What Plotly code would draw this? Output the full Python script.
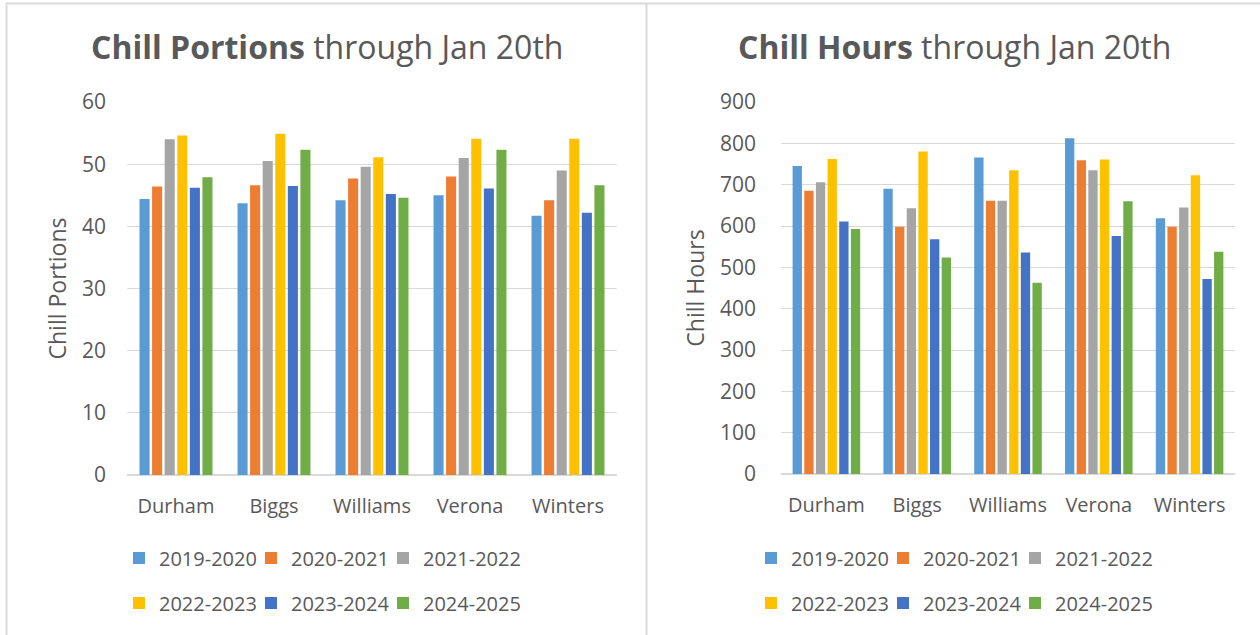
import plotly.graph_objects as go

W, H = 1260, 635

sites = ["Durham", "Biggs", "Williams", "Verona", "Winters"]
seasons = ["2019-2020", "2020-2021", "2021-2022", "2022-2023", "2023-2024", "2024-2025"]
colors = ["#5B9BD5", "#ED7D31", "#A5A5A5", "#FFC000", "#4472C4", "#70AD47"]

# Chill Portions through Jan 20th (per season, across sites)
portions_2019 = [44.4, 43.7, 44.2, 45.0, 41.7]
portions_2020 = [46.4, 46.6, 47.7, 48.0, 44.2]
portions_2021 = [54.0, 50.5, 49.6, 51.0, 49.0]
portions_2022 = [54.6, 54.9, 51.1, 54.1, 54.1]
portions_2023 = [46.2, 46.5, 45.2, 46.1, 42.2]
portions_2024 = [47.9, 52.3, 44.6, 52.3, 46.6]

# Chill Hours through Jan 20th
hours_2019 = [745, 690, 766, 812, 619]
hours_2020 = [685, 598, 661, 759, 598]
hours_2021 = [706, 643, 661, 735, 645]
hours_2022 = [762, 780, 735, 761, 723]
hours_2023 = [611, 568, 536, 576, 472]
hours_2024 = [593, 524, 463, 660, 538]

portions = [portions_2019, portions_2020, portions_2021, portions_2022, portions_2023, portions_2024]
hours = [hours_2019, hours_2020, hours_2021, hours_2022, hours_2023, hours_2024]

left_ticks = [0, 10, 20, 30, 40, 50, 60]
right_ticks = [0, 100, 200, 300, 400, 500, 600, 700, 800, 900]

TXT = "#595959"
GRID = "#D9D9D9"
FONT = "Open Sans"

def px_x(x):
    return x / W

def px_y(y):
    return 1 - y / H

# legend item layout (3 per row, 2 rows per panel)
LEG_LEFT_X0 = [136, 768]   # left edge of first legend swatch area, per panel
LEG_STRIDE = 132
LEG_ROWS_Y = [558, 603]

fig = go.Figure()
legends = {}

def legend_cfg(x, y):
    return dict(
        x=x, y=y, xanchor="left", yanchor="middle", orientation="h",
        font=dict(family=FONT, size=20, color=TXT), bgcolor="rgba(0,0,0,0)",
        itemwidth=30, traceorder="normal",
    )

for p, data in enumerate([portions, hours]):
    for i, (s, c) in enumerate(zip(seasons, colors)):
        n = p * 6 + i + 1
        lid = "legend" if n == 1 else f"legend{n}"
        row, col = divmod(i, 3)
        lx = LEG_LEFT_X0[p] + col * LEG_STRIDE - 17
        legends[lid] = legend_cfg(px_x(lx), px_y(LEG_ROWS_Y[row]))
        fig.add_trace(go.Bar(
            x=sites, y=data[i], name=s, marker=dict(color=c, line=dict(width=0)),
            xaxis="x" if p == 0 else "x2", yaxis="y" if p == 0 else "y2", legend=lid,
        ))

axis_font = dict(family=FONT, size=20, color=TXT)
tick_font = dict(family=FONT, size=21, color=TXT)

fig.update_layout(
    width=W, height=H,
    margin=dict(l=0, r=0, t=0, b=0, autoexpand=False),
    paper_bgcolor="white", plot_bgcolor="white",
    barmode="group", bargap=0.23, bargroupgap=0.2,
    showlegend=True,
    font=dict(family=FONT, color=TXT),
    xaxis=dict(
        domain=[px_x(127), px_x(617)], anchor="y", showgrid=False,
        showline=False, zeroline=False, tickfont=axis_font, ticks="",
        ticklabelstandoff=17, automargin=False,
    ),
    yaxis=dict(
        domain=[px_y(475), px_y(102)], anchor="x", range=[0, 60],
        tickvals=left_ticks, showgrid=True, gridcolor=GRID, gridwidth=1.3,
        zeroline=True, zerolinecolor=GRID, zerolinewidth=1.8, showline=False,
        tickfont=tick_font, ticks="", automargin=False,
        ticklabelstandoff=20,
        title=dict(text="Chill Portions", font=dict(family=FONT, size=23, color=TXT), standoff=8),
    ),
    xaxis2=dict(
        domain=[px_x(781), px_x(1235)], anchor="y2", showgrid=False,
        showline=False, zeroline=False, tickfont=axis_font, ticks="",
        ticklabelstandoff=17, automargin=False,
    ),
    yaxis2=dict(
        domain=[px_y(474), px_y(102)], anchor="x2", range=[0, 900],
        tickvals=right_ticks, showgrid=True, gridcolor=GRID, gridwidth=1.3,
        zeroline=True, zerolinecolor=GRID, zerolinewidth=1.8, showline=False,
        tickfont=tick_font, ticks="", automargin=False,
        ticklabelstandoff=24,
        title=dict(text="Chill Hours", font=dict(family=FONT, size=23, color=TXT), standoff=8),
    ),
    annotations=[
        dict(text="<b>Chill Portions</b> through Jan 20th", x=px_x(327), y=px_y(47),
             xref="paper", yref="paper", xanchor="center", yanchor="middle",
             showarrow=False, font=dict(family=FONT, size=32, color=TXT)),
        dict(text="<b>Chill Hours</b> through Jan 20th", x=px_x(954), y=px_y(47),
             xref="paper", yref="paper", xanchor="center", yanchor="middle",
             showarrow=False, font=dict(family=FONT, size=32, color=TXT)),
    ],
    shapes=[
        dict(type="line", xref="paper", yref="paper", x0=px_x(6), x1=1, y0=px_y(3.5), y1=px_y(3.5),
             line=dict(color=GRID, width=2)),
        dict(type="line", xref="paper", yref="paper", x0=px_x(6.5), x1=px_x(6.5), y0=0, y1=px_y(3),
             line=dict(color=GRID, width=2)),
        dict(type="line", xref="paper", yref="paper", x0=px_x(646.5), x1=px_x(646.5), y0=0, y1=px_y(3),
             line=dict(color=GRID, width=2)),
    ],
)
fig.update_layout(**legends)

fig.write_html(
    "out.html",
    config={"displayModeBar": False},
    post_script="document.body.style.margin='0';document.body.style.overflow='hidden';",
)
